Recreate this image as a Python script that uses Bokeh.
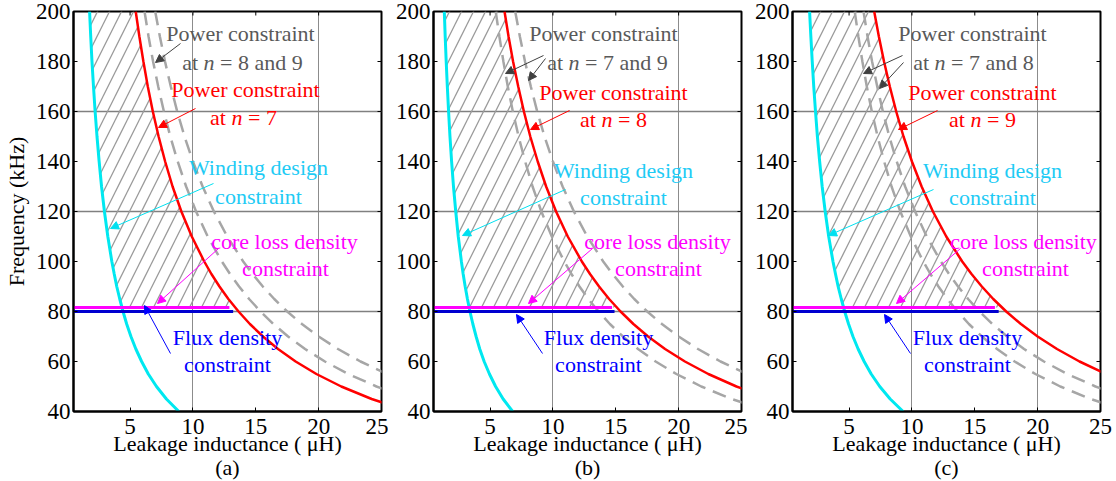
import numpy as np
from bokeh.plotting import figure
from bokeh.layouts import row
from bokeh.models import FixedTicker, Label, Arrow, NormalHead
from bokeh.embed import file_html
from bokeh.resources import INLINE

# ---------------- data ----------------
FREQ = [200, 190, 180, 170, 160, 150, 140, 130, 120, 110, 100, 95, 90, 85, 80, 75, 70, 65, 60, 55, 50, 45, 40]  # kHz
# power constraint curves: leakage inductance (uH) at each frequency
L_N7 = [5.45, 5.74, 6.06, 6.41, 6.81, 7.27, 7.79, 8.38, 9.08, 9.91, 10.9, 11.47, 12.11, 12.82, 13.63,
        14.53, 15.57, 16.77, 18.17, 19.82, 21.8, 24.22, 27.25]
L_N8 = [6.15, 6.47, 6.83, 7.24, 7.69, 8.2, 8.79, 9.46, 10.25, 11.18, 12.3, 12.95, 13.67, 14.47, 15.38,
        16.4, 17.57, 18.92, 20.5, 22.36, 24.6, 27.33, 30.75]
L_N9 = [7.0, 7.37, 7.78, 8.24, 8.75, 9.33, 10.0, 10.77, 11.67, 12.73, 14.0, 14.74, 15.56, 16.47, 17.5,
        18.67, 20.0, 21.54, 23.33, 25.45, 28.0, 31.1, 35.0]
# winding design constraint for panels (a), (b), (c)
L_WIND_A = [1.78, 1.87, 1.97, 2.09, 2.22, 2.37, 2.54, 2.73, 2.96, 3.23, 3.55, 3.74, 3.94, 4.18, 4.44,
            4.73, 5.07, 5.46, 5.92, 6.45, 7.1, 7.89, 8.88]
L_WIND_B = [1.36, 1.43, 1.51, 1.6, 1.7, 1.81, 1.94, 2.09, 2.27, 2.47, 2.72, 2.86, 3.02, 3.2, 3.4,
            3.63, 3.89, 4.18, 4.53, 4.95, 5.44, 6.04, 6.8]
L_WIND_C = [1.86, 1.96, 2.07, 2.19, 2.33, 2.48, 2.66, 2.86, 3.1, 3.38, 3.72, 3.92, 4.13, 4.38, 4.65,
            4.96, 5.31, 5.72, 6.2, 6.76, 7.44, 8.27, 9.3]
CORE_LOSS_F = 81.6          # kHz
FLUX_F = 80.0               # kHz
LINE_START = 0.5
CORE_END = [12.9, 14.7, 16.6]
FLUX_END = [13.2, 14.9, 16.9]
N_VALUES = [7, 8, 9]
PANEL_NAMES = ["(a)", "(b)", "(c)"]
X_TICKS = [5, 10, 15, 20, 25]
Y_TICKS = [40, 60, 80, 100, 120, 140, 160, 180, 200]
X_GRID = [10, 20]
Y_GRID = [80, 120, 160]
X_LABEL = "Leakage inductance ( \u03bcH)"
Y_LABEL = "Frequency (kHz)"

POWER = {7: L_N7, 8: L_N8, 9: L_N9}
WIND = [L_WIND_A, L_WIND_B, L_WIND_C]

# ---------------- styling ----------------
FONT = "Liberation Serif"
FS = 22
XMIN, XMAX, YMIN, YMAX = 0.5, 25, 40, 200
FRAME_W, FRAME_H, TOP = 308, 400, 11
SX = FRAME_W / (XMAX - XMIN)
SY = FRAME_H / (YMAX - YMIN)
TICK_PX = 4

GREY_TXT = "#595959"
RED = "#ff0000"
CYAN_LINE = "#00e8f0"
CYAN_TXT = "#1ecbf5"
MAGENTA = "#ff00ff"
BLUE_LINE = "#0000d0"
BLUE_TXT = "#0000ff"

# widths of Times-like glyphs (em) for composing mixed italic lines
TW = {'a': 0.444, 't': 0.278, ' ': 0.25, 'n': 0.5, '=': 0.564, 'd': 0.5}


def tw(s):
    return sum(TW.get(c, 0.5) for c in s) * FS


# annotation layout per panel (pixel offsets relative to frame left / canvas top)
ANN = [
    dict(grey=(167, 33, 169, 62), grey_arrows=[(107, 43, 82, 62)], others="8 and 9",
         red=(172, 89, 170, 117), red_arrow=(122, 108, 85, 127),
         cyan=(185, 167, 185, 196), cyan_arrow=(140, 183, 37, 228),
         mag=(211, 241, 212, 268), mag_arrow=(145, 248, 84, 303),
         blue=(154, 337, 154, 364), blue_arrow=(97, 353, 71, 305)),
    dict(grey=(170, 33, 174, 62), grey_arrows=[(110, 55, 72, 73), (112, 58, 95, 80)], others="7 and 9",
         red=(180, 92, 180, 119), red_arrow=(136, 110, 97, 129),
         cyan=(190, 170, 190, 197), cyan_arrow=(132, 189, 29, 235),
         mag=(224, 241, 225, 268), mag_arrow=(159, 248, 95, 303),
         blue=(165, 337, 165, 364), blue_arrow=(109, 353, 83, 314)),
    dict(grey=(180, 33, 181, 62), grey_arrows=[(110, 55, 71, 73), (111, 62, 87, 88)], others="7 and 8",
         red=(190, 92, 190, 119), red_arrow=(145, 110, 106, 129),
         cyan=(200, 170, 200, 197), cyan_arrow=(141, 189, 36, 235),
         mag=(231, 241, 233, 268), mag_arrow=(168, 248, 104, 303),
         blue=(175, 337, 175, 364), blue_arrow=(118, 353, 92, 314)),
]

BORDERS = [(73, 7), (45, 6), (45, 16)]


def dx(px):
    return XMIN + px / SX


def dy(py):
    return YMAX - (py - TOP) / SY


def label(p, x, y, text, color, italic=False, align="center"):
    p.add_layout(Label(x=dx(x), y=dy(y), text=text, text_color=color, text_font=FONT,
                       text_font_size=f"{FS}px", text_align=align, text_baseline="middle",
                       text_font_style="italic" if italic else "normal"))


def mixed_line(p, cx, cy, n_text, color):
    # "at n = <n_text>" with an italic n
    w_total = tw("at ") + tw("n") + tw(" = " + n_text)
    x0 = cx - w_total / 2
    label(p, x0, cy, "at", color, align="left")
    label(p, x0 + tw("at "), cy, "n", color, italic=True, align="left")
    label(p, x0 + tw("at ") + tw("n") + tw(" "), cy, "= " + n_text, color, align="left")


def arrow(p, a, color):
    x1, y1, x2, y2 = a
    p.add_layout(Arrow(x_start=dx(x1), y_start=dy(y1), x_end=dx(x2), y_end=dy(y2),
                       line_color=color, line_width=1,
                       end=NormalHead(size=8, fill_color=color, line_color=color)))


def make_panel(i):
    bl, br = BORDERS[i]
    n = N_VALUES[i]
    others = [k for k in N_VALUES if k != n]
    p = figure(frame_width=FRAME_W, frame_height=FRAME_H, x_range=(XMIN, XMAX), y_range=(YMIN, YMAX),
               output_backend="svg", toolbar_location=None,
               min_border_left=bl, min_border_right=br, min_border_top=TOP,
               min_border_bottom=481 - TOP - FRAME_H)
    p.outline_line_color = "black"
    p.outline_line_width = 2
    p.background_fill_color = "white"
    p.border_fill_color = "white"

    for ax, ticks in ((p.xaxis[0], X_TICKS), (p.yaxis[0], Y_TICKS)):
        ax.ticker = FixedTicker(ticks=ticks)
        ax.major_tick_in = TICK_PX
        ax.major_tick_out = 0
        ax.minor_tick_line_color = None
        ax.axis_line_width = 2
        ax.axis_line_color = "black"
        ax.major_tick_line_color = "black"
        ax.major_label_text_font = FONT
        ax.major_label_text_font_size = "23px"
        ax.major_label_text_color = "black"
        ax.axis_label_text_font = FONT
        ax.axis_label_text_font_size = f"{FS}px"
        ax.axis_label_text_font_style = "normal"
        ax.axis_label_text_color = "black"
    p.xaxis[0].major_label_standoff = 7
    p.yaxis[0].major_label_standoff = 3
    p.xaxis[0].axis_label = X_LABEL + "\n" + PANEL_NAMES[i]
    p.xaxis[0].axis_label_standoff = -6
    p.xaxis[0].axis_label_text_line_height = 0.96
    if i == 0:
        p.yaxis[0].axis_label = Y_LABEL
        p.yaxis[0].axis_label_standoff = 4

    # mirrored tick marks on the top and right edges of the box
    p.segment(x0=X_TICKS, y0=[YMAX] * len(X_TICKS), x1=X_TICKS,
              y1=[YMAX - TICK_PX / SY] * len(X_TICKS), line_color="black", line_width=1)
    p.segment(x0=[XMAX] * len(Y_TICKS), y0=Y_TICKS, x1=[XMAX - TICK_PX / SX] * len(Y_TICKS),
              y1=Y_TICKS, line_color="black", line_width=1)

    p.xgrid.ticker = FixedTicker(ticks=X_GRID)
    p.ygrid.ticker = FixedTicker(ticks=Y_GRID)
    p.xgrid.grid_line_color = "#8c8c8c"
    p.ygrid.grid_line_color = "#808080"
    p.xgrid.grid_line_width = 1
    p.ygrid.grid_line_width = 1.5

    f = np.array(FREQ, dtype=float)
    lw = np.array(WIND[i])
    lr = np.array(POWER[n])
    # hatched feasible region
    m = f > CORE_LOSS_F
    lw82 = np.interp(CORE_LOSS_F, f[::-1], lw[::-1])
    lr82 = np.interp(CORE_LOSS_F, f[::-1], lr[::-1])
    hx = list(lw[m]) + [lw82, lr82] + list(lr[m][::-1])
    hy = list(f[m]) + [CORE_LOSS_F, CORE_LOSS_F] + list(f[m][::-1])
    p.patch(hx, hy, fill_alpha=0, line_alpha=0, hatch_pattern="/", hatch_color="#9a9a9a",
            hatch_scale=24, hatch_weight=1.3)

    for k in others:
        p.line(POWER[k], FREQ, line_color="#a6a6a6", line_width=2.5, line_dash="14 8")
    p.line(POWER[n], FREQ, line_color=RED, line_width=2.5)
    p.line(WIND[i], FREQ, line_color=CYAN_LINE, line_width=3)
    p.line([LINE_START, CORE_END[i]], [CORE_LOSS_F, CORE_LOSS_F], line_color=MAGENTA, line_width=3)
    p.line([LINE_START, FLUX_END[i]], [FLUX_F, FLUX_F], line_color=BLUE_LINE, line_width=3)

    a = ANN[i]
    gx1, gy1, gx2, gy2 = a["grey"]
    label(p, gx1, gy1, "Power constraint", GREY_TXT)
    mixed_line(p, gx2, gy2, a["others"], GREY_TXT)
    for ga in a["grey_arrows"]:
        arrow(p, ga, "#404040")
    rx1, ry1, rx2, ry2 = a["red"]
    label(p, rx1, ry1, "Power constraint", RED)
    mixed_line(p, rx2, ry2, str(n), RED)
    arrow(p, a["red_arrow"], RED)
    cx1, cy1, cx2, cy2 = a["cyan"]
    label(p, cx1, cy1, "Winding design", CYAN_TXT)
    label(p, cx2, cy2, "constraint", CYAN_TXT)
    arrow(p, a["cyan_arrow"], "#00e0f0")
    mx1, my1, mx2, my2 = a["mag"]
    label(p, mx1, my1, "core loss density", MAGENTA)
    label(p, mx2, my2, "constraint", MAGENTA)
    arrow(p, a["mag_arrow"], MAGENTA)
    bx1, by1, bx2, by2 = a["blue"]
    label(p, bx1, by1, "Flux density", BLUE_TXT)
    label(p, bx2, by2, "constraint", BLUE_TXT)
    arrow(p, a["blue_arrow"], BLUE_TXT)
    return p


panels = [make_panel(i) for i in range(3)]
layout = row(*panels)
open("out.html", "w").write(file_html(layout, INLINE))
